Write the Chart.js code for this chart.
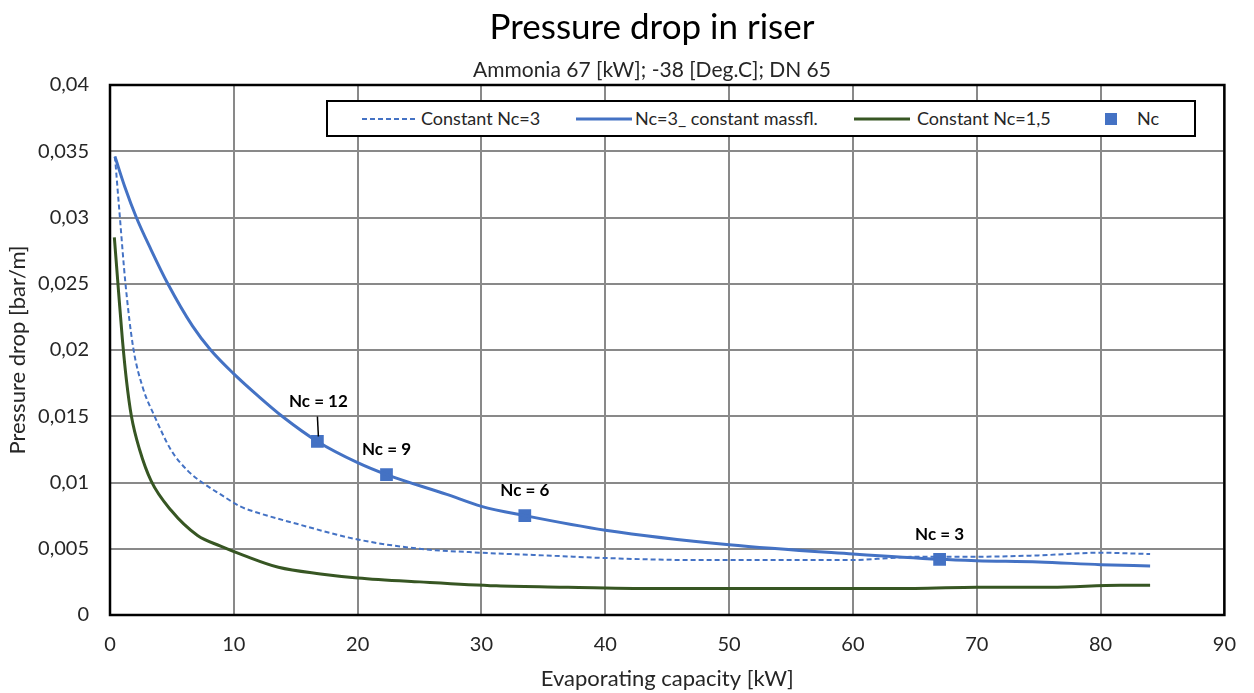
<!DOCTYPE html>
<html>
<head>
<meta charset="utf-8">
<title>Pressure drop in riser</title>
<script src="https://cdn.jsdelivr.net/npm/chart.js@4.4.1/dist/chart.umd.min.js"></script>
<style>
  html, body { margin: 0; padding: 0; background: #fff; }
  #wrap { position: relative; width: 1254px; height: 693px; }
  #legend { position: absolute; left: 326px; top: 100px; width: 866px; height: 33px;
            border: 2px solid #000; background: #fff; font-family: Lato, sans-serif;
            font-size: 18px; color: #262626; }
  #legend .it { position: absolute; top: 0; height: 33px; line-height: 33px; white-space: nowrap; }
  #legend svg { position: absolute; top: 0; left: 0; }
</style>
</head>
<body>
<div id="wrap">
  <canvas id="canvas-1" width="1254" height="693"></canvas>
  <div id="legend">
    <svg width="866" height="33">
      <line x1="34" y1="17" x2="89" y2="17" stroke="#4472C4" stroke-width="2" stroke-dasharray="5,3"/>
      <line x1="248" y1="17" x2="304" y2="17" stroke="#4472C4" stroke-width="3"/>
      <line x1="526" y1="17" x2="582" y2="17" stroke="#375623" stroke-width="3"/>
      <rect x="777" y="11" width="12" height="12" fill="#4472C4"/>
    </svg>
    <span class="it" style="left:93px">Constant Nc=3</span>
    <span class="it" style="left:307px">Nc=3_ constant massfl.</span>
    <span class="it" style="left:589px">Constant Nc=1,5</span>
    <span class="it" style="left:809px">Nc</span>
  </div>
</div>
<script>
'use strict';

// Constant Nc=3 (dashed)
var constNc3_x = [0.4, 0.8, 1.25, 1.87, 2.67, 3.6, 4.93, 6.27, 7.6, 8.93, 10.5, 12, 15, 20, 25, 30, 35, 40, 47, 55, 60, 63, 65, 70, 75, 80, 84];
var constNc3_y = [0.0346, 0.0300, 0.0250, 0.0202, 0.0171, 0.0150, 0.01245, 0.0109, 0.0099, 0.0091, 0.0082, 0.0077, 0.0069, 0.0057, 0.0050, 0.0047, 0.0045, 0.0043, 0.00415, 0.00415, 0.00415, 0.0043, 0.0044, 0.0044, 0.0045, 0.0047, 0.0046];

// Nc=3_ constant massfl. (solid blue)
var massfl_x = [0.4, 1.2, 2.13, 3.3, 4.67, 6.67, 8.13, 10, 12, 13.9, 16.75, 20, 22.33, 27.2, 30, 33.5, 40, 50, 60, 67, 70, 75, 80, 84];
var massfl_y = [0.0346, 0.0323, 0.0300, 0.0276, 0.0250, 0.0218, 0.0200, 0.0182, 0.0165, 0.0150, 0.0131, 0.0115, 0.0106, 0.0091, 0.0082, 0.0075, 0.0064, 0.0053, 0.0046, 0.0042, 0.0041, 0.0040, 0.0038, 0.0037];

// Constant Nc=1,5 (green)
var constNc15_x = [0.35, 0.7, 1.0, 1.33, 1.73, 2.4, 3.33, 4.93, 7.07, 8.93, 10.8, 13.6, 17, 20, 25, 31.2, 37, 44.6, 55, 65, 70, 76, 81.6, 84];
var constNc15_y = [0.0285, 0.0243, 0.0208, 0.0177, 0.0150, 0.01245, 0.0101, 0.0079, 0.0060, 0.0052, 0.0045, 0.0036, 0.0031, 0.0028, 0.0025, 0.0022, 0.0021, 0.0020, 0.0020, 0.0020, 0.0021, 0.0021, 0.00225, 0.00225];

// Nc markers
var nc_x = [16.75, 22.33, 33.5, 67];
var nc_y = [0.0131, 0.0106, 0.0075, 0.0042];
var nc_labels = ['Nc = 12', 'Nc = 9', 'Nc = 6', 'Nc = 3'];

var xTicks = [0, 10, 20, 30, 40, 50, 60, 70, 80, 90];
var chartTitle = 'Pressure drop in riser';
var chartSubtitle = 'Ammonia 67 [kW]; -38 [Deg.C]; DN 65';

function toPoints(xs, ys) {
    var pts = [];
    for (var i = 0; i < xs.length; i++) {
        pts.push({x: xs[i], y: ys[i]});
    }
    return pts;
}

Chart.defaults.font.family = 'Lato, sans-serif';
Chart.defaults.color = '#262626';

// titles drawn centred where the original had them
var titlePlugin = {
    id: 'titles',
    afterDraw: function (chart) {
        var ctx = chart.ctx;
        ctx.save();
        ctx.fillStyle = '#000';
        ctx.textAlign = 'center';
        ctx.textBaseline = 'middle';
        ctx.font = '35px Lato';
        ctx.fillText(chartTitle, 652, 28);
        ctx.fillStyle = '#262626';
        ctx.font = '21px Lato';
        ctx.fillText(chartSubtitle, 652, 70);
        ctx.restore();
    }
};

// black frame around the plot area
var framePlugin = {
    id: 'frame',
    beforeDatasetsDraw: function (chart) {
        var a = chart.chartArea;
        var ctx = chart.ctx;
        ctx.save();
        ctx.strokeStyle = '#000';
        ctx.lineWidth = 2.5;
        ctx.strokeRect(a.left, a.top, a.right - a.left, a.bottom - a.top);
        ctx.restore();
    }
};

// "Nc = .." labels above the markers
var ncLabelPlugin = {
    id: 'ncLabels',
    afterDatasetsDraw: function (chart) {
        var meta = chart.getDatasetMeta(3);
        var ctx = chart.ctx;
        ctx.save();
        ctx.font = 'bold 17px Lato';
        ctx.fillStyle = '#000';
        ctx.textAlign = 'center';
        ctx.textBaseline = 'middle';
        meta.data.forEach(function (pt, i) {
            if (i === 0) {
                ctx.fillText(nc_labels[i], pt.x + 1, pt.y - 40);
                ctx.strokeStyle = '#000';
                ctx.lineWidth = 1.5;
                ctx.beginPath();
                ctx.moveTo(pt.x, pt.y - 25);
                ctx.lineTo(pt.x + 1, pt.y - 5);
                ctx.stroke();
            } else {
                ctx.fillText(nc_labels[i], pt.x, pt.y - 25);
            }
        });
        ctx.restore();
    }
};

var ctx = document.getElementById('canvas-1');
var chart = new Chart(ctx, {
    type: 'line',
    data: {
        datasets: [{
            label: 'Constant Nc=3',
            data: toPoints(constNc3_x, constNc3_y),
            borderColor: '#4472C4',
            borderWidth: 2,
            borderDash: [5, 3],
            pointRadius: 0,
            cubicInterpolationMode: 'monotone',
            fill: false
        }, {
            label: 'Nc=3_ constant massfl.',
            data: toPoints(massfl_x, massfl_y),
            borderColor: '#4472C4',
            borderWidth: 3,
            pointRadius: 0,
            cubicInterpolationMode: 'monotone',
            fill: false
        }, {
            label: 'Constant Nc=1,5',
            data: toPoints(constNc15_x, constNc15_y),
            borderColor: '#375623',
            borderWidth: 3,
            pointRadius: 0,
            cubicInterpolationMode: 'monotone',
            fill: false
        }, {
            label: 'Nc',
            data: toPoints(nc_x, nc_y),
            showLine: false,
            pointStyle: 'rect',
            pointRadius: 9,
            pointBackgroundColor: '#4472C4',
            pointBorderColor: '#4472C4',
            pointBorderWidth: 0
        }]
    },
    options: {
        responsive: false,
        animation: false,
        layout: { padding: { top: 85, right: 17, bottom: 0, left: 0 } },
        plugins: {
            legend: { display: false },
            tooltip: { enabled: false }
        },
        scales: {
            x: {
                type: 'linear',
                min: 0,
                max: 90,
                afterBuildTicks: function (s) {
                    s.ticks = xTicks.map(function (v) { return {value: v}; });
                },
                ticks: { padding: 18, font: { size: 20 } },
                grid: { color: '#898989', lineWidth: 2, drawTicks: false },
                border: { display: false },
                title: { display: true, text: 'Evaporating capacity [kW]', font: { size: 22 }, padding: { top: 0, bottom: 1 } },
                afterFit: function (s) { s.height = 78; }
            },
            y: {
                min: 0,
                max: 0.04,
                ticks: {
                    stepSize: 0.005,
                    padding: 21,
                    font: { size: 20 },
                    callback: function (v) {
                        return String(Number(v.toFixed(3))).replace('.', ',');
                    }
                },
                grid: { color: '#898989', lineWidth: 2, drawTicks: false },
                border: { display: false },
                title: { display: true, text: 'Pressure drop [bar/m]', font: { size: 22 }, padding: { top: 5, bottom: 0 } },
                afterFit: function (s) { s.width = 110; }
            }
        }
    },
    plugins: [titlePlugin, framePlugin, ncLabelPlugin]
});
</script>
</body>
</html>
